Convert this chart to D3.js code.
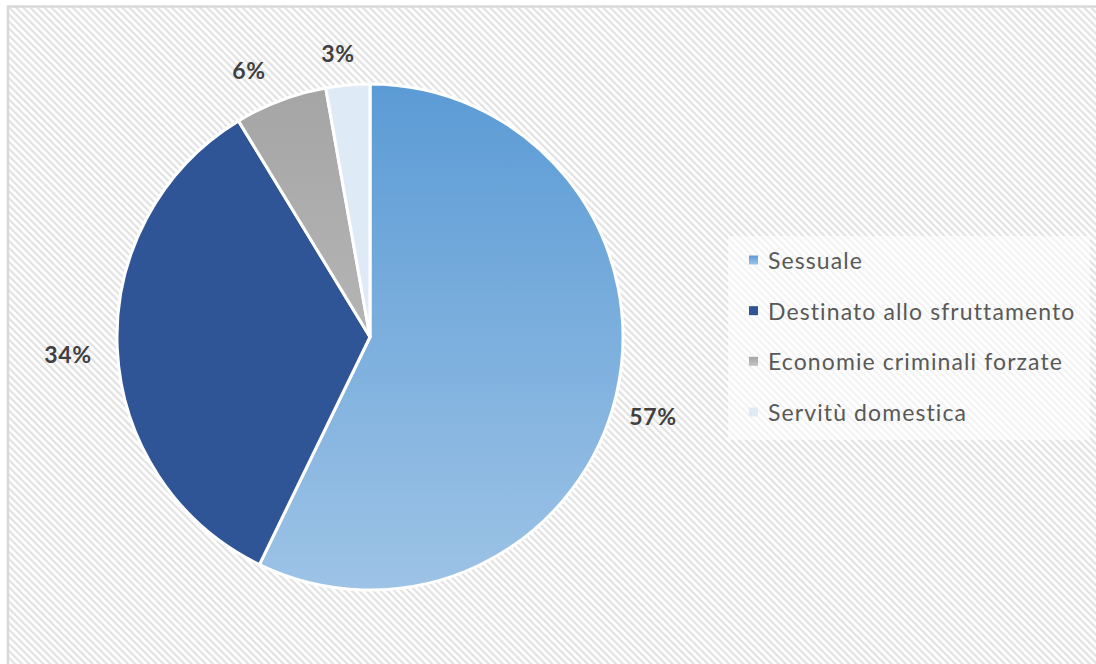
<!DOCTYPE html>
<html><head><meta charset="utf-8">
<script src="https://cdn.jsdelivr.net/npm/d3@7"></script>
<style>html,body{margin:0;padding:0;background:#fff;}svg{display:block;}</style>
</head><body>
<svg id="c" width="1096" height="664"></svg>
<script>
const categories = ["Sessuale", "Destinato allo sfruttamento", "Economie criminali forzate", "Servitù domestica"];
const values = [57.2, 34.1, 5.9, 2.8];
const labels = ["57%", "34%", "6%", "3%"];
const colorsTop = ["#5b9bd5", "#2f5597", "#a5a5a5", "#deebf7"];
const colorsBottom = ["#9dc3e6", "#2f5597", "#c4c4c4", "#deebf7"];

const svg = d3.select("#c");
const W = 1096, H = 664;
const defs = svg.append("defs");
const pat = defs.append("pattern").attr("id","stripes").attr("patternUnits","userSpaceOnUse")
  .attr("width",5).attr("height",5).attr("patternTransform","rotate(-45)");
pat.append("rect").attr("width",5).attr("height",5).attr("fill","#ffffff");
pat.append("rect").attr("x",0).attr("width",2.2).attr("height",5).attr("fill","#e2e2e2");

const cx = 370, cy = 337, r = 253;
categories.forEach((c,i)=>{
  const g = defs.append("linearGradient").attr("id","g"+i)
    .attr("gradientUnits","userSpaceOnUse").attr("x1",0).attr("y1",-r).attr("x2",0).attr("y2",r);
  g.append("stop").attr("offset","0%").attr("stop-color",colorsTop[i]);
  g.append("stop").attr("offset","100%").attr("stop-color",colorsBottom[i]);
  const gl = defs.append("linearGradient").attr("id","gl"+i).attr("x1",0).attr("y1",0).attr("x2",0).attr("y2",1);
  gl.append("stop").attr("offset","0%").attr("stop-color",colorsTop[i]);
  gl.append("stop").attr("offset","100%").attr("stop-color",colorsBottom[i]);
});

svg.append("rect").attr("x",0).attr("y",0).attr("width",W).attr("height",H).attr("fill","#fff");
svg.append("rect").attr("x",8).attr("y",6.5).attr("width",W+10).attr("height",H+10)
  .attr("fill","url(#stripes)").attr("stroke","#d9d9d9").attr("stroke-width",2.5);

const pie = d3.pie().sort(null).value(d=>d);
const arcs = pie(values);
const arc = d3.arc().innerRadius(0).outerRadius(r);
const gp = svg.append("g").attr("transform",`translate(${cx},${cy})`);
gp.selectAll("path").data(arcs).join("path")
  .attr("d",arc)
  .attr("fill",(d,i)=>"url(#g"+i+")")
  .attr("stroke","#fff").attr("stroke-width",3).attr("stroke-linejoin","round");

const labelPos = [[653,416],[68,354],[249,70],[338,53]];
svg.selectAll("text.lbl").data(arcs).join("text").attr("class","lbl")
  .attr("x",(d,i)=>labelPos[i][0]).attr("y",(d,i)=>labelPos[i][1])
  .attr("text-anchor","middle").attr("dominant-baseline","central")
  .attr("font-family","Lato, 'Open Sans', sans-serif").attr("font-weight","bold")
  .attr("font-size",23).attr("letter-spacing",0.6).attr("fill","#404040").text((d,i)=>labels[i]);

// legend
svg.append("rect").attr("x",728).attr("y",236).attr("width",362).attr("height",204)
  .attr("fill","#fff").attr("opacity",0.55);
const y = d3.scalePoint().domain(categories).range([260,412]);
const lg = svg.append("g");
const items = lg.selectAll("g").data(categories).join("g").attr("transform",d=>`translate(0,${y(d)})`);
items.append("rect").attr("x",749).attr("y",-4.5).attr("width",9).attr("height",9)
  .attr("fill",(d,i)=>"url(#gl"+i+")");
items.append("text").attr("x",768).attr("y",0).attr("dominant-baseline","central")
  .attr("font-family","Lato, 'Open Sans', sans-serif").attr("font-size",23).attr("letter-spacing",1.1).attr("fill","#595959")
  .text(d=>d);
</script>
</body></html>
